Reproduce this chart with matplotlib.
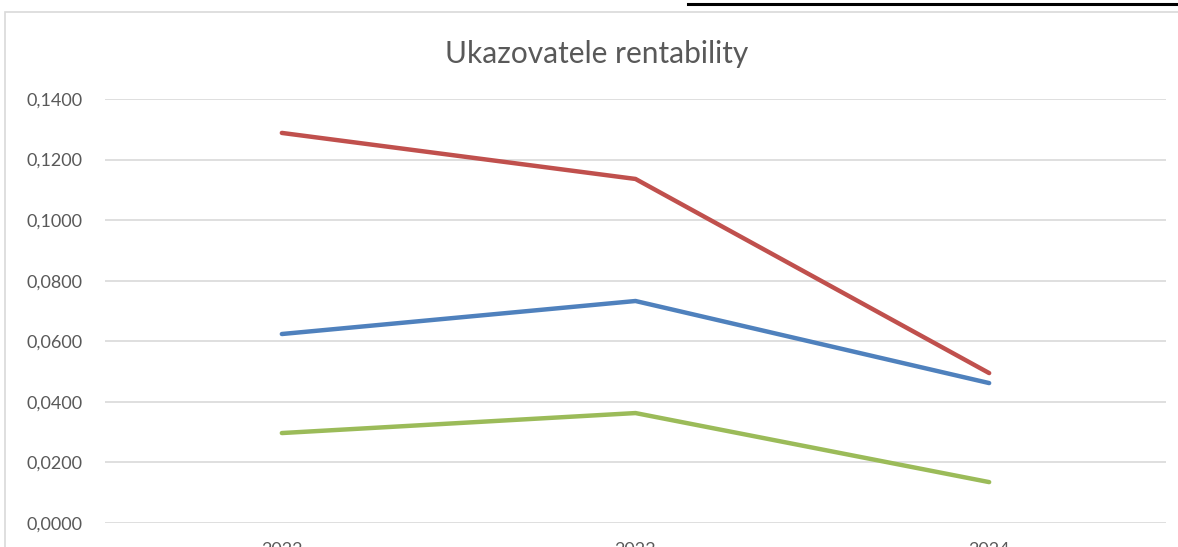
import matplotlib.pyplot as plt
from matplotlib.patches import Rectangle
from matplotlib.lines import Line2D

roky = ["2022", "2023", "2024"]
roa = [0.0624, 0.0733, 0.0462]
roe = [0.1288, 0.1136, 0.0495]
ros = [0.0297, 0.0363, 0.0135]
y_ticks = [0.0, 0.02, 0.04, 0.06, 0.08, 0.10, 0.12, 0.14]

W, H = 1178, 547
fig = plt.figure(figsize=(W / 100, H / 100), dpi=100)
plt.rcParams['font.family'] = ['Lato', 'DejaVu Sans']

# chart frame (Excel chart area), partially cut off
fig.patches.append(Rectangle((5 / W, 0 - 5 / H), (W + 20) / W, (H - 12 + 5) / H,
                             transform=fig.transFigure, fill=False,
                             edgecolor='#D9D9D9', linewidth=1.2))
# black rule of the surrounding document
fig.lines.append(Line2D([688 / W, 1 + 5 / W], [1 - 4 / H, 1 - 4 / H],
                        transform=fig.transFigure, color='black', linewidth=2.2))

ax = fig.add_axes([105 / W, 1 - 523 / H, 1061 / W, 424 / H])
x = [i + 0.5 for i in range(len(roky))]
ax.plot(x, roa, color='#4F81BD', linewidth=3.2, solid_capstyle='round')
ax.plot(x, roe, color='#C0504D', linewidth=3.2, solid_capstyle='round')
ax.plot(x, ros, color='#9BBB59', linewidth=3.2, solid_capstyle='round')

ax.set_xlim(0, len(roky))
ax.set_ylim(0, 0.14)
ax.set_yticks(y_ticks)
ax.set_yticklabels([f"{v:.4f}".replace('.', ',') for v in y_ticks])
ax.set_xticks(x)
ax.set_xticklabels(roky)
ax.tick_params(axis='y', length=0, pad=16, labelsize=13, labelcolor='#595959')
ax.tick_params(axis='x', length=0, pad=14, labelsize=13, labelcolor='#595959')
ax.grid(axis='y', color='#D9D9D9', linewidth=1.2)
ax.set_axisbelow(True)
for s in ax.spines.values():
    s.set_visible(False)

fig.text(597 / W, 1 - 63 / H, "Ukazovatele rentability", ha='center', va='baseline',
         fontsize=21.5, color='#595959')

fig.savefig("out.png", dpi=100)
